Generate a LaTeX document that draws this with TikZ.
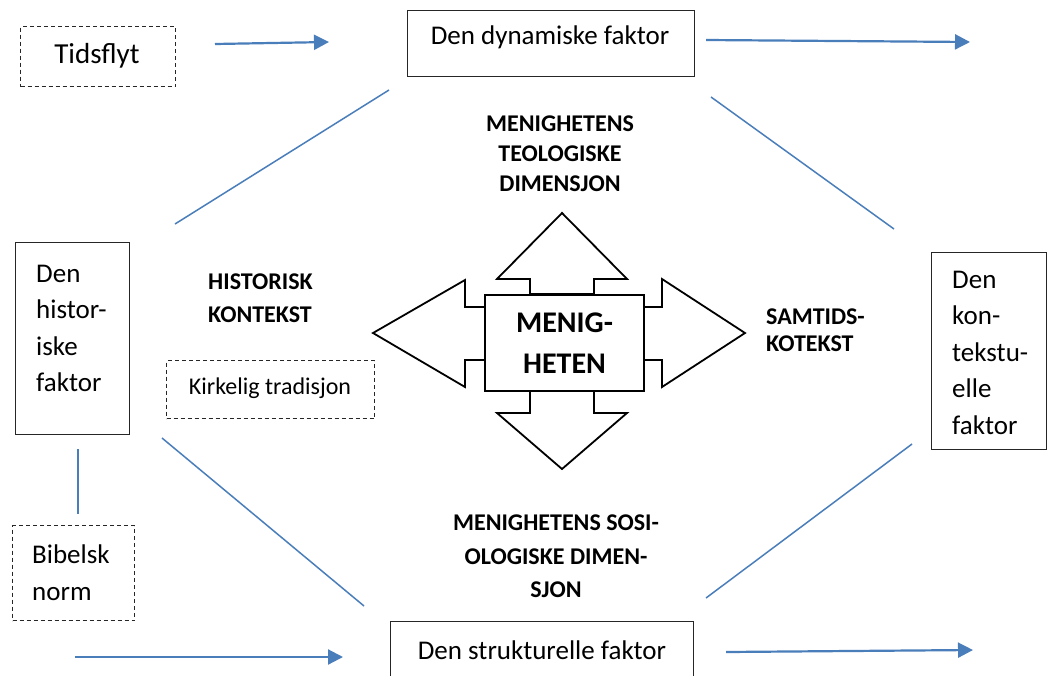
\documentclass[tikz,border=0pt]{standalone}
\usepackage{fontspec}
\setmainfont{Carlito}
\usetikzlibrary{arrows.meta}
\definecolor{wblue}{RGB}{74,126,187}
\begin{document}
\begin{tikzpicture}[x=1pt,y=-1pt,
  box/.style={draw=black!85, line width=1.1pt, inner sep=0, anchor=north west},
  dbox/.style={box, dash pattern=on 4pt off 3pt},
  txt/.style={inner sep=0, align=left, font=\fontsize{27}{36.5}\selectfont},
  lbl/.style={inner sep=0, font=\fontsize{24}{30}\selectfont\bfseries},
  bl/.style={draw=wblue, line width=1.5pt},
  ba/.style={draw=wblue, line width=2.2pt, -{Triangle[length=15pt,width=15pt]}},
  big/.style={draw=black, line width=1.8pt, fill=white, line join=miter}
]
\useasboundingbox (0,0) rectangle (1048,675);
\clip (0,0) rectangle (1048,675);
\fill[white] (0,0) rectangle (1048,675);

% boxes
\node[dbox, minimum width=155, minimum height=60] (tid) at (20,26) {};
\node[box, minimum width=287, minimum height=66] (dyn) at (407,10) {};
\node[box, minimum width=114, minimum height=192] (hist) at (15,242) {};
\node[dbox, minimum width=208, minimum height=58] (kirk) at (166,360) {};
\node[dbox, minimum width=122, minimum height=95] (bib) at (12,525) {};
\node[box, minimum width=115, minimum height=197] (kont) at (931,252) {};
\node[box, minimum width=303, minimum height=70] (str) at (390,621) {};

% box texts
\node[inner sep=0, font=\fontsize{29}{34}\selectfont] (tidt) at (97,56) {Tidsflyt};
\node[inner sep=0, font=\fontsize{27}{30}\selectfont] (dynt) at (550,37) {Den dynamiske faktor};
\node[inner sep=0, font=\fontsize{27}{30}\selectfont] (strt) at (542,650) {Den strukturelle faktor};
\node[inner sep=0, font=\fontsize{24}{28}\selectfont] (kirkt) at (270,388) {Kirkelig tradisjon};
\node[txt, anchor=north west] (histt) at (36,264.5) {Den\\histor-\\iske\\faktor};
\node[txt, anchor=north west] (kontt) at (952,270.5) {Den\\kon-\\tekstu-\\elle\\faktor};
\node[txt, anchor=north west, font=\fontsize{27}{37}\selectfont] (bibt) at (32,544.5) {Bibelsk\\norm};

% bold labels
\node[lbl, align=center, anchor=north] (teol) at (560,116) {MENIGHETENS\\TEOLOGISKE\\DIMENSJON};
\node[lbl, align=left, anchor=north west, font=\fontsize{24}{33}\selectfont\bfseries] (histk) at (208,274) {HISTORISK\\KONTEKST};
\node[lbl, align=left, anchor=north west, font=\fontsize{24}{27}\selectfont\bfseries] (samt) at (766,309) {SAMTIDS-\\KOTEKST};
\node[lbl, align=center, anchor=north, font=\fontsize{24}{33.5}\selectfont\bfseries] (sosi) at (556,515) {MENIGHETENS SOSI-\\OLOGISKE DIMEN-\\SJON};

% central arrows
\draw[big] (530,294) -- (530,279) -- (497,279) -- (562,213) -- (627,279) -- (594,279) -- (594,294) -- cycle;
\draw[big] (530,390) -- (530,413) -- (497,413) -- (562,469) -- (627,413) -- (594,413) -- (594,390) -- cycle;
\draw[big] (485,307) -- (465,307) -- (465,280) -- (373,333) -- (465,387) -- (465,360) -- (485,360) -- cycle;
\draw[big] (644,307) -- (662,307) -- (662,279) -- (745,333) -- (662,387) -- (662,360) -- (644,360) -- cycle;
\node[draw=black, line width=1.8pt, fill=white, inner sep=0, minimum width=159, minimum height=96,
      align=center, font=\fontsize{30}{41}\selectfont\bfseries] (men) at (564.5,343) {MENIG-\\HETEN};

% connector end points
\coordinate (a1s) at (215,44);  \coordinate (a1e) at (329,42);
\coordinate (a2s) at (706,40);  \coordinate (a2e) at (970,42);
\coordinate (a3s) at (75,657);  \coordinate (a3e) at (343,657);
\coordinate (a4s) at (726,652); \coordinate (a4e) at (973,650);
\coordinate (l1s) at (175,224); \coordinate (l1e) at (389,90);
\coordinate (l2s) at (711,97);  \coordinate (l2e) at (894,229);
\coordinate (l3s) at (162,438); \coordinate (l3e) at (364,606);
\coordinate (l4s) at (706,598); \coordinate (l4e) at (912,444);
\coordinate (l5s) at (78,449);  \coordinate (l5e) at (78,514);

\draw[ba] (a1s) -- (a1e);
\draw[ba] (a2s) -- (a2e);
\draw[ba] (a3s) -- (a3e);
\draw[ba] (a4s) -- (a4e);
\draw[bl] (l1s) -- (l1e);
\draw[bl] (l2s) -- (l2e);
\draw[bl] (l3s) -- (l3e);
\draw[bl] (l4s) -- (l4e);
\draw[bl] (l5s) -- (l5e);
\end{tikzpicture}
\end{document}
